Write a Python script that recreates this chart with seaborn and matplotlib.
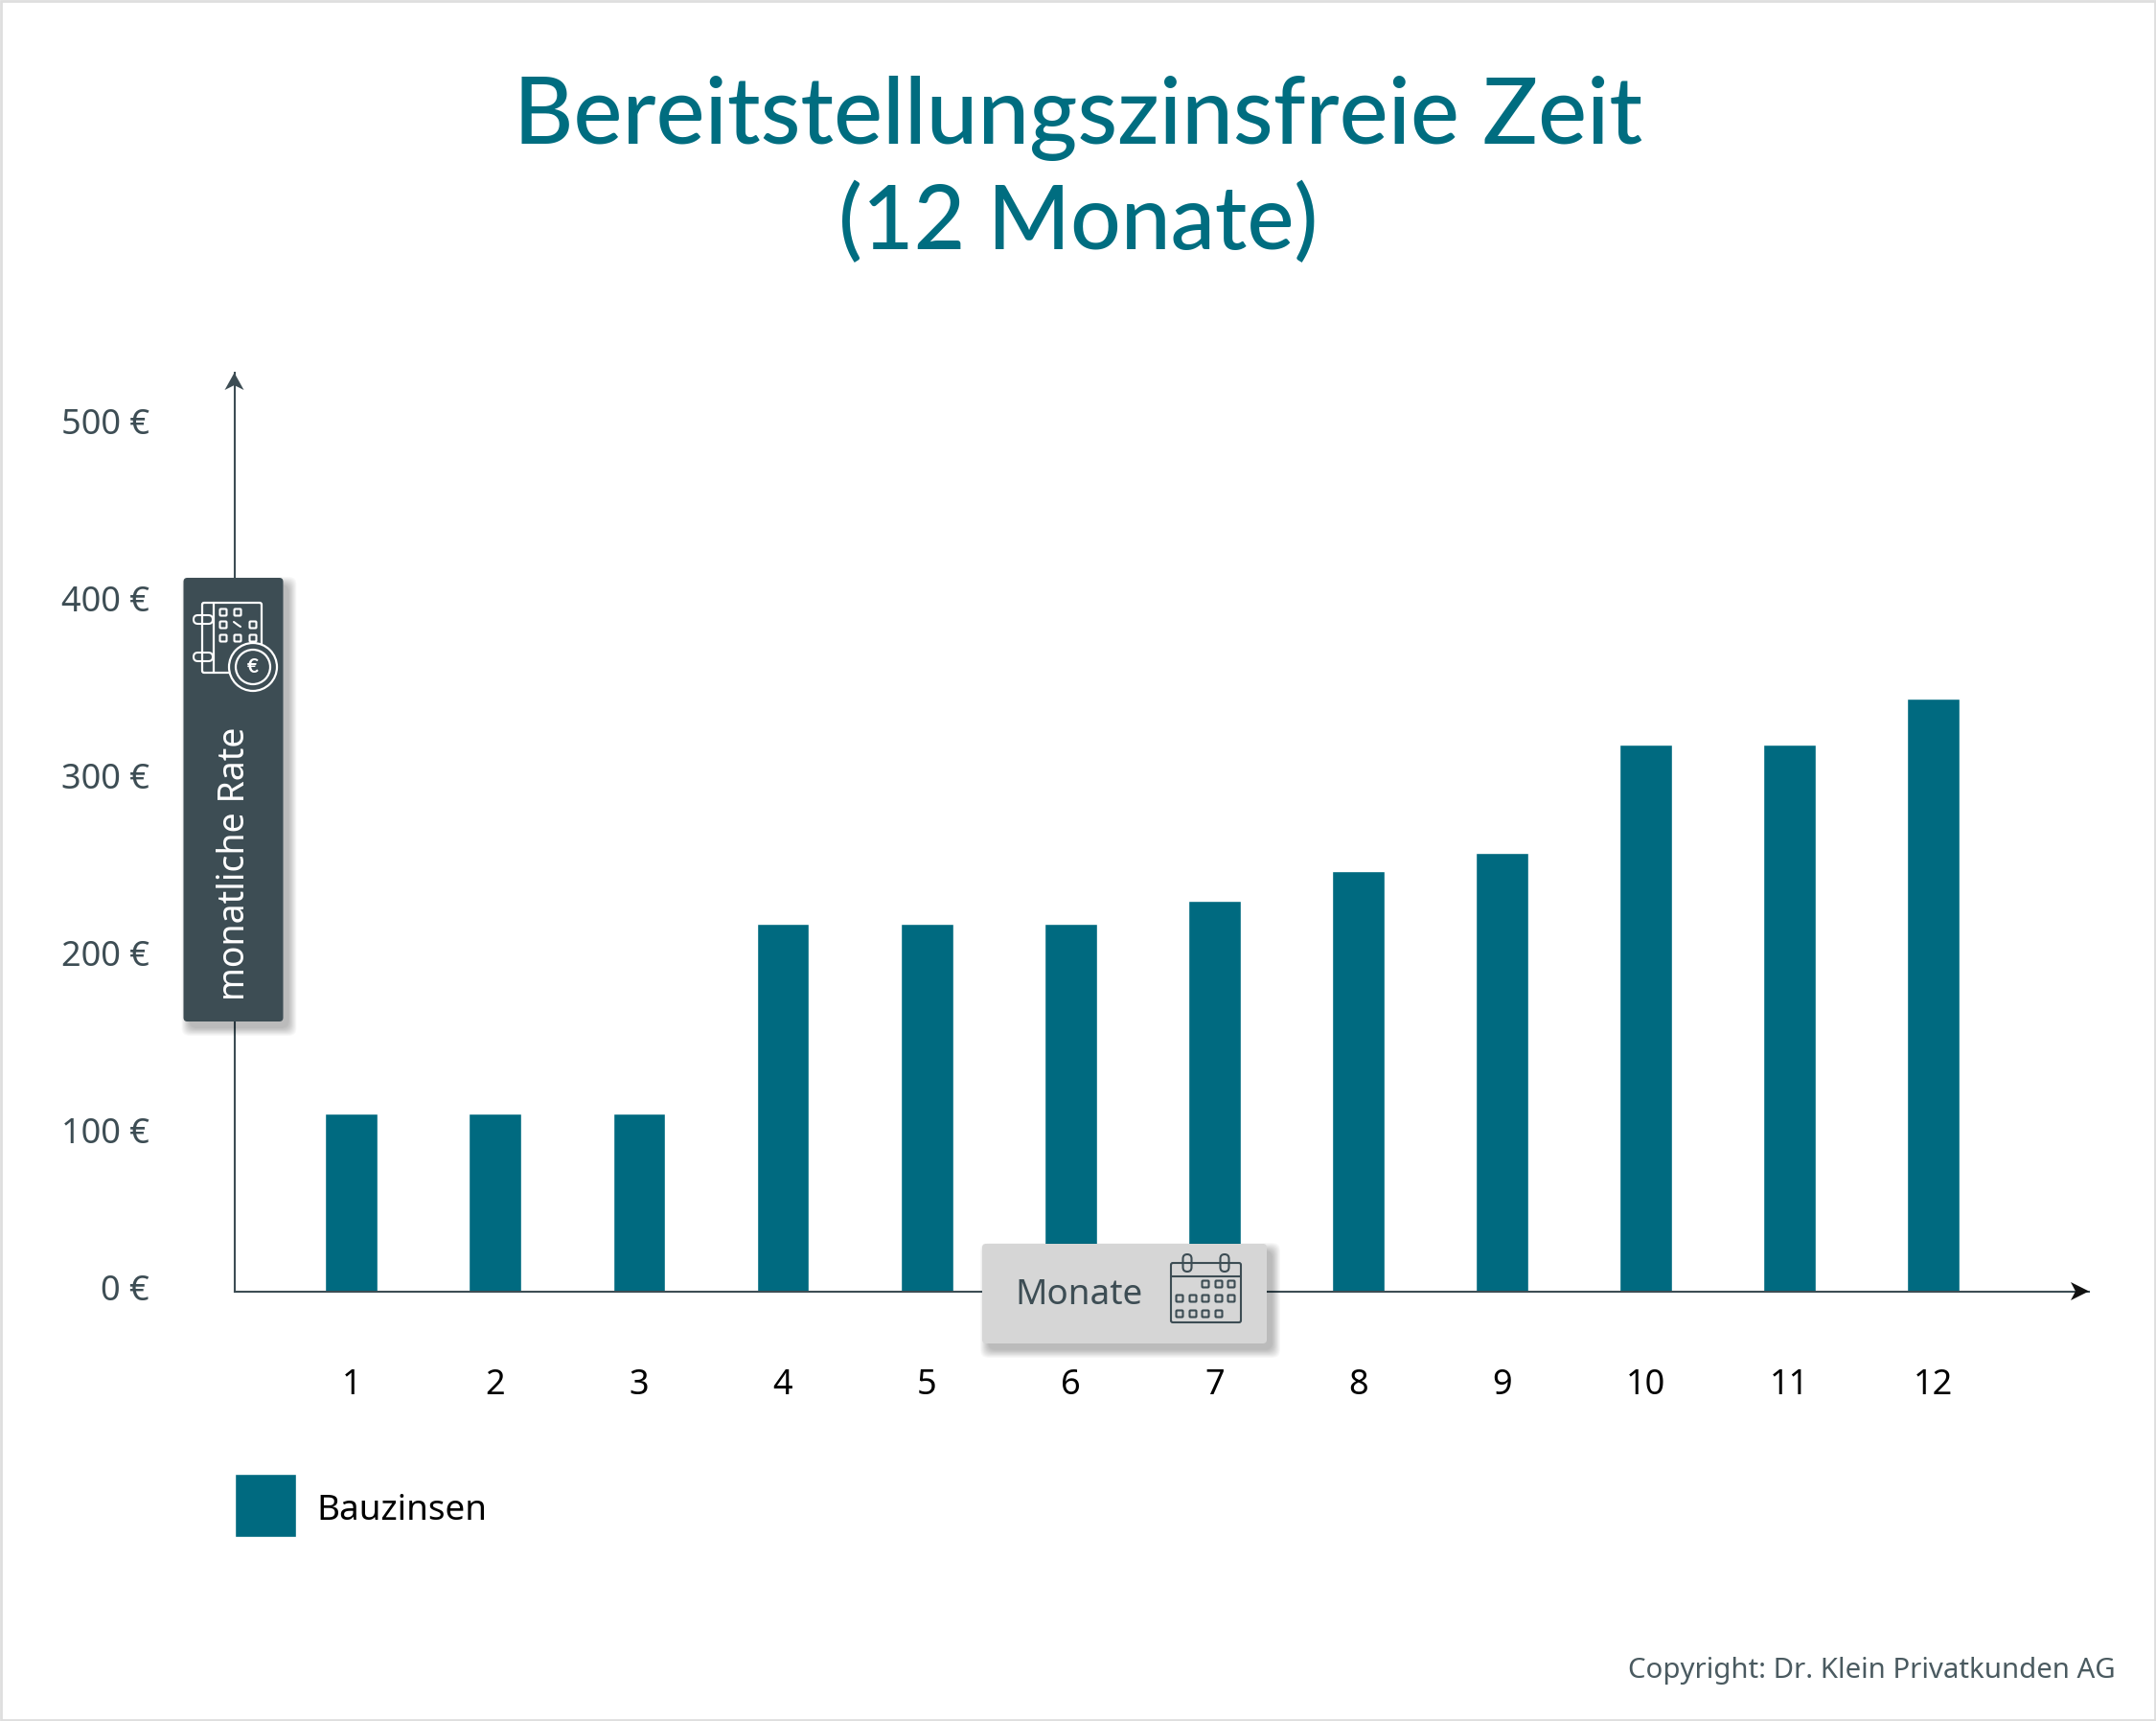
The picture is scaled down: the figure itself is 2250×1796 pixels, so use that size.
import numpy as np
import pandas as pd
import matplotlib.pyplot as plt
import seaborn as sns
from matplotlib.patches import FancyBboxPatch, Rectangle, Circle, Polygon
from matplotlib.transforms import ScaledTranslation

# ===================== DATA =====================
monate = [1, 2, 3, 4, 5, 6, 7, 8, 9, 10, 11, 12]
raten  = [100, 100, 100, 207, 207, 207, 220, 237, 247, 308, 308, 334]
y_ticks  = [0, 100, 200, 300, 400, 500]
y_labels = ["0 €", "100 €", "200 €", "300 €", "400 €", "500 €"]
titel = "Bereitstellungszinsfreie Zeit\n(12 Monate)"

TEAL = "#006a80"
DARK = "#3d4d54"
GREY = "#d6d6d6"
W, H = 2250, 1796
FONT = ["Lato", "DejaVu Sans"]
LABEL_FONT = ["Noto Sans", "DejaVu Sans"]

sns.set_style("white")
plt.rcParams["font.family"] = LABEL_FONT

df = pd.DataFrame({"monat": monate, "rate": raten})

fig = plt.figure(figsize=(W / 100, H / 100), dpi=100, facecolor="white")

# ===================== MAIN AXES =====================
left, right, top, base = 245, 2180, 389, 1347.5
ax = fig.add_axes([left / W, 1 - base / H, (right - left) / W, (base - top) / H])
sns.barplot(data=df, x="monat", y="rate", color=TEAL, saturation=1, width=0.365,
            label="Bauzinsen", ax=ax)
ax.set_xlim(-0.811, 12.08)
ax.set_ylim(0, 517.8)
ax.set_xlabel(""); ax.set_ylabel("")
ax.set_yticks(y_ticks); ax.set_yticklabels(y_labels)
ax.tick_params(axis="x", length=0, pad=58, labelsize=26, labelcolor="black")
ax.tick_params(axis="y", length=0, pad=64, labelsize=26, labelcolor=DARK)
ax.patch.set_alpha(0)
for s in ["top", "right"]:
    ax.spines[s].set_visible(False)
for s in ["left", "bottom"]:
    ax.spines[s].set_color(DARK)
    ax.spines[s].set_linewidth(1.5)

# labels in the original sit a little below their gridline position
for val, lab in zip(y_ticks, ax.get_yticklabels()):
    dy = 3 / 100 * 1.435 if val == 0 else -12 * 1.435 / 100
    lab.set_transform(lab.get_transform() + ScaledTranslation(0, dy, fig.dpi_scale_trans))

# ===================== LEGEND =====================
leg = ax.legend(loc="upper left", bbox_to_anchor=(245 / W, 1 - 1538 / H),
                bbox_transform=fig.transFigure, frameon=False, fontsize=26.5,
                handlelength=1.74, handleheight=2.4, handletextpad=0.57,
                borderpad=0, borderaxespad=0, labelcolor="black")
leg.get_texts()[0].set_y(-3)

# ===================== OVERLAY (pixel coords) =====================
ov = fig.add_axes([0, 0, 1, 1], zorder=5)
ov.set_xlim(0, W); ov.set_ylim(H, 0)
ov.axis("off")


def panel(x0, y0, x1, y1, color):
    # soft shadow, then the box
    for i in range(12):
        grow = 16 - i * 1.5
        ov.add_patch(FancyBboxPatch((x0 + 6 - grow / 2, y0 + 7 - grow / 2), x1 - x0 + grow, y1 - y0 + grow,
                                    boxstyle="round,pad=0,rounding_size=8", fc="black", ec="none", alpha=0.022))
    ov.add_patch(FancyBboxPatch((x0, y0), x1 - x0, y1 - y0,
                                boxstyle="round,pad=0,rounding_size=4", fc=color, ec="none"))


def small_box(cx, cy, color, size=7, lw=1.5):
    ov.add_patch(FancyBboxPatch((cx - size / 2, cy - size / 2), size, size,
                                boxstyle="round,pad=0,rounding_size=1", fc="none", ec=color, lw=lw))


def ring(x0, y0, w, h, color, fc="none", lw=1.5):
    ov.add_patch(FancyBboxPatch((x0, y0), w, h, boxstyle=f"round,pad=0,rounding_size={min(w, h) / 2}",
                                fc=fc, ec=color, lw=lw))


# frame of the image
ov.add_patch(Rectangle((1, 1), W - 2, H - 2, fc="none", ec="#dedede", lw=2))

# arrow heads
ov.add_patch(Polygon([(244.5, 389), (254.5, 407), (244.5, 402), (234.5, 407)], fc=DARK, ec="none"))
ov.add_patch(Polygon([(2180, 1347.5), (2161, 1338), (2166, 1347.5), (2161, 1357)], fc="#111111", ec="none"))

# y axis panel
panel(191.5, 603, 295.5, 1066, DARK)
ov.text(245, 901, "monatliche Rate", rotation=90, color="white", fontsize=27,
        ha="center", va="center", family=LABEL_FONT)
ov.add_patch(FancyBboxPatch((211, 629), 62, 73, boxstyle="round,pad=0,rounding_size=2", fc="none", ec="white", lw=1.6))
ov.plot([223, 223], [629, 702], color="white", lw=1.6)
ring(202, 642, 20, 9, "white")
ring(202, 681, 20, 9, "white")
for cx, cy in [(233, 639), (248, 639), (233, 652), (264, 652), (233, 666), (248, 666), (264, 666)]:
    small_box(cx, cy, "white")
ov.plot([244, 248, 251], [649, 652, 654], color="white", lw=1.5)
ov.add_patch(Circle((264, 696), 25, fc=DARK, ec="white", lw=1.6))
ov.add_patch(Circle((264, 696), 18, fc=DARK, ec="white", lw=1.6))
ov.text(264, 696, "€", color="white", fontsize=15, fontweight="bold", ha="center", va="center", family=FONT)

# x axis panel
panel(1025, 1298, 1322, 1402, GREY)
ov.text(1126, 1352, "Monate", color=DARK, fontsize=26.5, ha="center", va="center", family=LABEL_FONT)
ov.add_patch(FancyBboxPatch((1222, 1318), 73, 62, boxstyle="round,pad=0,rounding_size=2", fc="none", ec=DARK, lw=1.5))
ov.plot([1222, 1295], [1332, 1332], color=DARK, lw=1.5)
ring(1234.5, 1309, 9, 18, DARK)
ring(1273.5, 1309, 9, 18, DARK)
rows = {1340: [1258, 1272, 1285], 1355: [1231, 1245, 1258, 1272, 1285], 1371: [1231, 1245, 1258, 1272]}
for cy, xs in rows.items():
    for cx in xs:
        small_box(cx, cy, DARK)

# ===================== TEXT =====================
ov.text(1125, 124, titel.split("\n")[0], color="#006d80", fontsize=69.2, ha="center", va="center",
        family=FONT, fontweight="medium")
ov.text(1125, 233, titel.split("\n")[1], color="#006d80", fontsize=66.7, ha="center", va="center",
        family=FONT, fontweight="medium")
ov.text(2208, 1744, "Copyright: Dr. Klein Privatkunden AG", color="#4a5a60", fontsize=21.2,
        ha="right", va="center", family=LABEL_FONT)

plt.savefig("out.png", dpi=100)
plt.close()
